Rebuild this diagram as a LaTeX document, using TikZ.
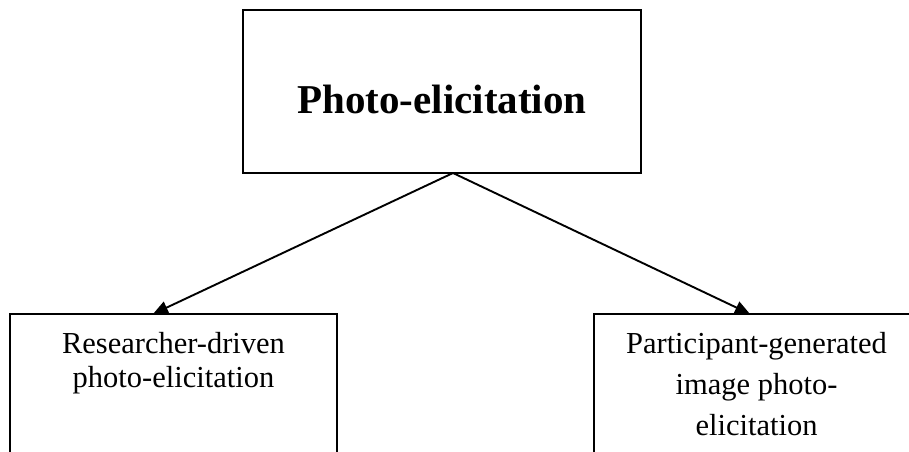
\documentclass[tikz,border=0pt]{standalone}
\usepackage{fontspec}
\setmainfont{Liberation Serif}
\usetikzlibrary{arrows.meta}
\begin{document}
\begin{tikzpicture}[x=1pt,y=-1pt,
  boxstyle/.style={draw=black,line width=1.9pt,rectangle,inner sep=0pt},
  smalltext/.style={anchor=base,inner sep=0pt,font=\fontsize{30.5}{34}\selectfont},
  bigtext/.style={anchor=base,inner sep=0pt,font=\fontsize{41}{46}\selectfont\bfseries},
  arrowline/.style={line width=1.9pt,-{Triangle[length=15pt,width=13pt]}}]
\useasboundingbox (0,0) rectangle (909,451);
\clip (0,0) rectangle (909,451);
\fill[white] (0,0) rectangle (909,451);
% top box
\node[boxstyle,minimum width=398pt,minimum height=163pt] (top) at (442,91.5) {};
\node[bigtext] (toptext) at (442,113) {Photo-elicitation};
% left box
\node[boxstyle,minimum width=327pt,minimum height=157pt] (left) at (173.5,392.5) {};
\node[smalltext] (leftA) at (173.5,353) {Researcher-driven};
\node[smalltext] (leftB) at (173.5,387) {photo-elicitation};
% right box
\node[boxstyle,minimum width=327pt,minimum height=157pt] (right) at (757.5,392.5) {};
\node[smalltext] (rightA) at (756.5,353) {Participant-generated};
\node[smalltext] (rightB) at (756.5,394) {image photo-};
\node[smalltext] (rightC) at (756.5,435) {elicitation};
% connectors
\coordinate (apex) at (453,173);
\coordinate (lefttip) at (153,314);
\coordinate (righttip) at (750,314);
\draw[arrowline] (apex) -- (lefttip);
\draw[arrowline] (apex) -- (righttip);
\end{tikzpicture}
\end{document}
